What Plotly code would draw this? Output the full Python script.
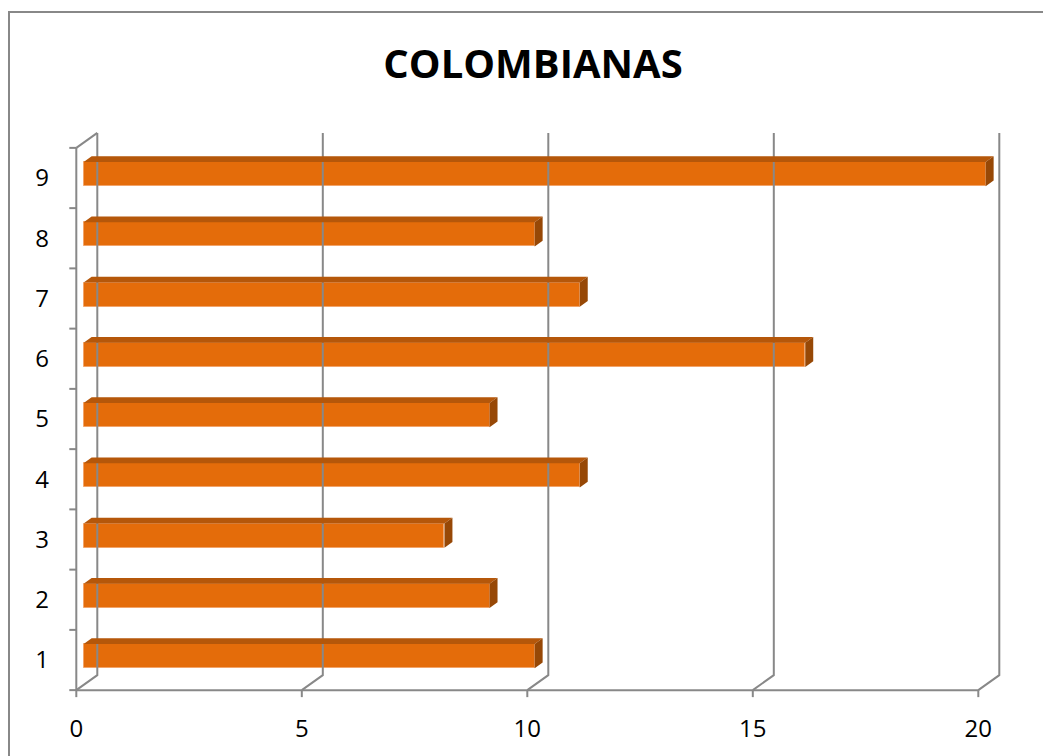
import plotly.graph_objects as go

# Data
categories = [1, 2, 3, 4, 5, 6, 7, 8, 9]
values = [10, 9, 8, 11, 9, 16, 11, 10, 20]
x_ticks = [0, 5, 10, 15, 20]
title_text = "COLOMBIANAS"

# Canvas and plot-area geometry
W, H = 1043, 756
M_L, M_R, M_T, M_B = 56, 20, 110, 44
PX_PER_UNIT = 45.1          # pixels per value unit on the front plane
PX_PER_CAT = 60.25          # pixels per category step
X0_PX = 76.3                # pixel of value 0 on the front plane
C1_PY = 660.0               # pixel of category 1 on the front plane

plot_w = W - M_L - M_R
plot_h = H - M_T - M_B
x_range = [(M_L - X0_PX) / PX_PER_UNIT, (W - M_R - X0_PX) / PX_PER_UNIT]
y_range = [1 + (C1_PY - (H - M_B)) / PX_PER_CAT, 1 + (C1_PY - M_T) / PX_PER_CAT]

# Oblique depth of the 3-D box (front plane -> back wall), in data units
DEPTH_X = 21 / PX_PER_UNIT
DEPTH_Y = 15 / PX_PER_CAT

# Bar placement inside the depth
BAR_Z = 0.35
BAR_DZ = 0.38
BAR_H = 0.40
bar_off_x = BAR_Z * DEPTH_X
bar_off_y = 0.065
bar_dx = BAR_DZ * DEPTH_X
bar_dy = BAR_DZ * DEPTH_Y

ORANGE = "#E46C0A"
TOP = "#B5570A"
SIDE = "#974806"
GRID = "#888888"

c_lo = categories[0] - 0.5
c_hi = categories[-1] + 0.5
v_max = x_ticks[-1]

fig = go.Figure()

# Back-wall gridlines with their floor diagonals
gx, gy = [], []
for t in x_ticks:
    gx += [t, t + DEPTH_X, t + DEPTH_X, None]
    gy += [c_lo, c_lo + DEPTH_Y, c_hi + DEPTH_Y, None]
# side wall top edge
gx += [0, DEPTH_X, None]
gy += [c_hi, c_hi + DEPTH_Y, None]
fig.add_trace(go.Scatter(x=gx, y=gy, mode="lines",
                         line=dict(color=GRID, width=2),
                         hoverinfo="skip", showlegend=False))

# Front axis lines and tick marks
ax, ay = [0, 0, None, 0, v_max, None], [c_hi, c_lo, None, c_lo, c_lo, None]
tick_x = 7 / PX_PER_UNIT
tick_y = 7 / PX_PER_CAT
for k in range(len(categories) + 1):
    c = c_lo + k
    ax += [0, -tick_x, None]
    ay += [c, c, None]
for t in x_ticks:
    ax += [t, t, None]
    ay += [c_lo, c_lo - tick_y, None]
fig.add_trace(go.Scatter(x=ax, y=ay, mode="lines",
                         line=dict(color=GRID, width=2),
                         hoverinfo="skip", showlegend=False))

# Front faces of the bars
fig.add_trace(go.Bar(
    y=[c + bar_off_y for c in categories],
    x=values,
    base=bar_off_x,
    width=BAR_H,
    orientation="h",
    marker=dict(color=ORANGE, line=dict(color="#F2A46A", width=1)),
    showlegend=False,
    hovertemplate="%{x}<extra></extra>",
))

# Top and side faces of the bars
tx, ty, sx, sy = [], [], [], []
for c, v in zip(categories, values):
    yc = c + bar_off_y
    top = yc + BAR_H / 2
    bot = yc - BAR_H / 2
    left = bar_off_x
    right = bar_off_x + v
    tx += [left, right, right + bar_dx, left + bar_dx, left, None]
    ty += [top, top, top + bar_dy, top + bar_dy, top, None]
    sx += [right, right, right + bar_dx, right + bar_dx, right, None]
    sy += [bot, top, top + bar_dy, bot + bar_dy, bot, None]
fig.add_trace(go.Scatter(x=tx, y=ty, mode="lines", fill="toself",
                         fillcolor=TOP, line=dict(width=0, color=TOP),
                         hoverinfo="skip", showlegend=False))
fig.add_trace(go.Scatter(x=sx, y=sy, mode="lines", fill="toself",
                         fillcolor=SIDE, line=dict(width=0, color=SIDE),
                         hoverinfo="skip", showlegend=False))

# Chart-area border
bx0 = (9 - M_L) / plot_w
by1 = (H - M_B - 12) / plot_h
fig.add_shape(type="rect", xref="paper", yref="paper",
              x0=bx0, x1=1.2, y0=-0.3, y1=by1,
              line=dict(color="#888888", width=2), layer="below")

tick_font = dict(family="Open Sans", size=24, color="black")
fig.update_layout(
    width=W, height=H,
    margin=dict(l=M_L, r=M_R, t=M_T, b=M_B),
    paper_bgcolor="white", plot_bgcolor="white",
    bargap=0,
    title=dict(text=f"<b>{title_text}</b>", x=533 / W, xanchor="center",
               y=1 - 64 / H, yanchor="middle",
               font=dict(family="Open Sans", size=40, color="black")),
    xaxis=dict(range=x_range, tickvals=x_ticks, showgrid=False, zeroline=False,
               showline=False, ticks="", tickfont=tick_font,
               ticklabelstandoff=0),
    yaxis=dict(range=y_range, tickvals=categories, showgrid=False, zeroline=False,
               showline=False, ticks="", tickfont=tick_font,
               ticklabelstandoff=6),
    font=dict(family="Open Sans"),
)

fig.write_html("out.html")
